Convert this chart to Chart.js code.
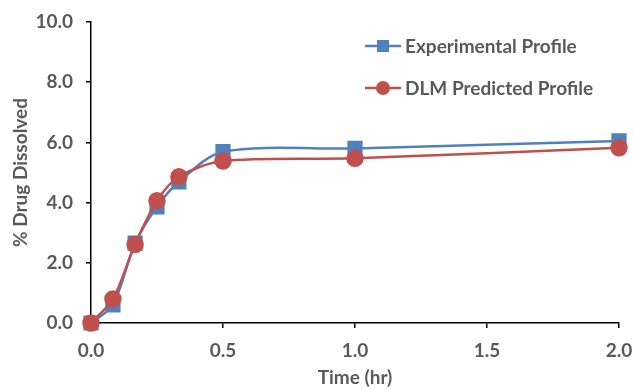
<!DOCTYPE html>
<html><head><meta charset="utf-8">
<script src="https://cdn.jsdelivr.net/npm/chart.js@4/dist/chart.umd.min.js"></script>
<style>html,body{margin:0;padding:0;background:#fff;}#wrap{width:633px;height:390px;position:relative;}</style>
</head><body><div id="wrap"><canvas id="c" width="633" height="390"></canvas></div>
<script>
const timeHr = [0, 0.083, 0.167, 0.25, 0.333, 0.5, 1.0, 2.0];
const experimental = [0, 0.6, 2.65, 3.86, 4.69, 5.69, 5.80, 6.05];
const dlmPredicted = [0, 0.8, 2.61, 4.06, 4.86, 5.38, 5.47, 5.82];
const seriesNames = ['Experimental Profile', 'DLM Predicted Profile'];
const xTicks = [0, 0.5, 1.0, 1.5, 2.0];
const yTicks = [0, 2, 4, 6, 8, 10];

const BLUE = '#4F81BD', RED = '#C0504D', TXT = '#595959';
const FONT = "Lato, 'Open Sans', sans-serif";

const toPts = (ys) => timeHr.map((x, i) => ({x, y: ys[i]}));

const legendPlugin = {
  id: 'inLegend',
  afterDraw(chart) {
    const ctx = chart.ctx;
    const items = [
      {ds: chart.data.datasets[1], y: 46},
      {ds: chart.data.datasets[0], y: 88}
    ];
    ctx.save();
    items.forEach(it => {
      const ds = it.ds;
      ctx.strokeStyle = ds.borderColor;
      ctx.lineWidth = 2.5;
      ctx.beginPath(); ctx.moveTo(365, it.y); ctx.lineTo(401, it.y); ctx.stroke();
      ctx.fillStyle = ds.backgroundColor;
      if (ds.pointStyle === 'rect') {
        ctx.fillRect(377, it.y - 6, 12, 12);
      } else {
        ctx.beginPath(); ctx.arc(383, it.y, 7, 0, Math.PI * 2); ctx.fill();
      }
      ctx.fillStyle = TXT;
      ctx.font = "bold 19px " + FONT;
      ctx.textBaseline = 'middle';
      ctx.textAlign = 'left';
      ctx.fillText(ds.label, 405, it.y + 1);
    });
    ctx.restore();
  }
};

new Chart(document.getElementById('c'), {
  type: 'scatter',
  data: {
    datasets: [
      {label: seriesNames[1], data: toPts(dlmPredicted), borderColor: RED, backgroundColor: RED, clip: false,
       pointStyle: 'circle', pointRadius: 7.5, borderWidth: 2.5, showLine: true, tension: 0.3, order: 1},
      {label: seriesNames[0], data: toPts(experimental), borderColor: BLUE, backgroundColor: BLUE, clip: false,
       pointStyle: 'rect', pointRadius: 9, borderWidth: 2.5, showLine: true, tension: 0.3, order: 2}
    ]
  },
  plugins: [legendPlugin],
  options: {
    responsive: false, animation: false,
    layout: {padding: {top: 22, right: 0, left: 5, bottom: 0}},
    plugins: {legend: {display: false}, tooltip: {enabled: false}},
    elements: {point: {borderWidth: 0}},
    scales: {
      x: {
        type: 'linear', min: 0, max: 2,
        afterBuildTicks: (s) => { s.ticks = xTicks.map(v => ({value: v})); },
        afterFit: (s) => { s.height = 67; s.paddingRight = 14; s.paddingLeft = 0; },
        ticks: {color: TXT, font: {family: FONT, size: 19, weight: 'bold'}, padding: 11,
                callback: (v) => v.toFixed(1), maxRotation: 0},
        grid: {display: true, drawOnChartArea: false, drawTicks: true, tickLength: 5, color: '#000', lineWidth: 1.5},
        border: {color: '#000', width: 1.5},
        title: {display: true, text: 'Time (hr)', color: TXT, font: {family: FONT, size: 19, weight: 'bold'}, padding: {top: 3, bottom: 1}}
      },
      y: {
        type: 'linear', min: 0, max: 10,
        afterBuildTicks: (s) => { s.ticks = yTicks.map(v => ({value: v})); },
        afterFit: (s) => { s.width = 86; s.paddingTop = 0; s.paddingBottom = 0; },
        ticks: {color: TXT, font: {family: FONT, size: 19, weight: 'bold'}, padding: 13,
                callback: (v) => v.toFixed(1)},
        grid: {display: true, drawOnChartArea: false, drawTicks: true, tickLength: 5, color: '#000', lineWidth: 1.5},
        border: {color: '#000', width: 1.5},
        title: {display: true, text: '% Drug Dissolved', color: TXT, font: {family: FONT, size: 19, weight: 'bold'}, padding: {bottom: 2}}
      }
    }
  }
});
</script></body></html>
